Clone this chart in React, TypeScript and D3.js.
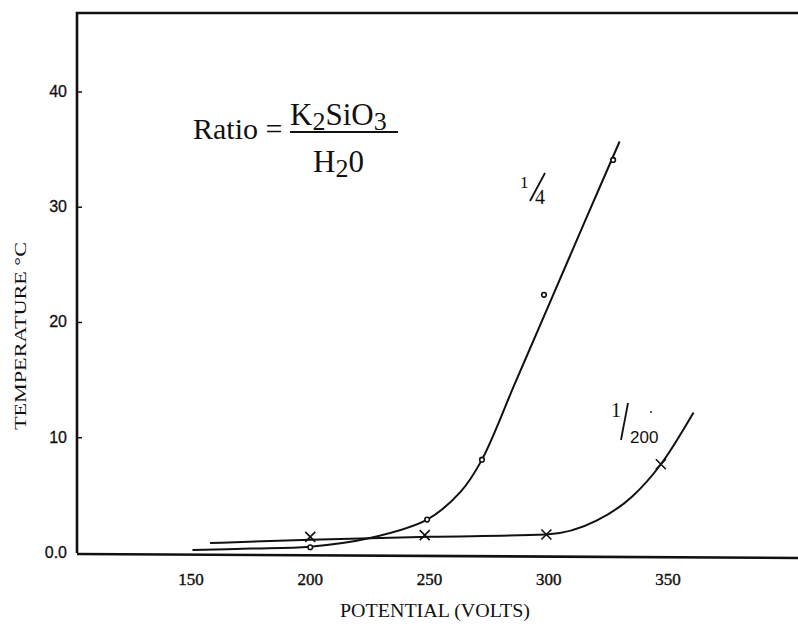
import { useEffect, useRef } from 'react'
import * as d3 from 'd3'

// axis ticks
const potentialTicks = [150, 200, 250, 300, 350]
const tempTicks = [0, 10, 20, 30, 40]
const tempTickLabels = ['0.0', '10', '20', '30', '40']

// ratio 1/4 (dots): measured points and the hand-drawn fit
const quarterVolts = [200, 249, 272, 298, 327]
const quarterTemps = [0.5, 2.9, 8.1, 22.4, 34.1]
const quarterFitVolts = [150.6, 175, 200, 225, 249, 263, 272, 286, 300, 315, 329.7]
const quarterFitTemps = [0.26, 0.38, 0.55, 1.3, 2.9, 5.3, 8.1, 14.8, 21.5, 28.7, 35.7]

// ratio 1/200 (crosses)
const twoHundVolts = [200, 248, 299, 347]
const twoHundTemps = [1.4, 1.55, 1.6, 7.7]
const twoHundFitVolts = [158, 200, 250, 299, 320, 335, 347, 360.7]
const twoHundFitTemps = [0.86, 1.15, 1.4, 1.6, 2.8, 4.9, 7.7, 12.2]

const W = 798
const H = 626
const SERIF = '"Liberation Serif", "DejaVu Serif", serif'
const SANS = '"Liberation Sans", Arial, sans-serif'

function App() {
  const ref = useRef<SVGSVGElement | null>(null)

  useEffect(() => {
    const svg = d3.select(ref.current)
    svg.selectAll('*').remove()

    const x = d3.scaleLinear().domain([102.2, 404.5]).range([77, 798])
    const y = d3.scaleLinear().domain([0, 46.85]).range([553, 13])

    const ink = '#111'

    // frame: left axis, top border, bottom axis
    svg
      .append('path')
      .attr('d', `M${x(102.2)},${y(0)} L${x(102.2)},${y(46.85)} L${W},${y(46.85)}`)
      .attr('fill', 'none')
      .attr('stroke', ink)
      .attr('stroke-width', 2.6)
    svg
      .append('line')
      .attr('x1', x(102.2))
      .attr('x2', W)
      .attr('y1', y(0) + 1)
      .attr('y2', y(0) + 5)
      .attr('stroke', ink)
      .attr('stroke-width', 2.6)

    // y ticks (inward) and labels
    const yt = svg.append('g')
    tempTicks.forEach((t, i) => {
      if (t > 0) {
        yt.append('line')
          .attr('x1', x(102.2))
          .attr('x2', x(102.2) + 5)
          .attr('y1', y(t))
          .attr('y2', y(t))
          .attr('stroke', ink)
          .attr('stroke-width', 1.5)
      }
      yt.append('text')
        .attr('x', 67)
        .attr('y', y(t) + 5)
        .attr('text-anchor', 'end')
        .attr('font-family', SANS)
        .attr('font-size', 16)
        .attr('fill', ink)
        .attr('stroke', ink)
        .attr('stroke-width', 0.3)
        .text(tempTickLabels[i])
    })

    // x tick labels
    svg
      .append('g')
      .selectAll('text')
      .data(potentialTicks)
      .join('text')
      .attr('x', (d) => x(d))
      .attr('y', 585)
      .attr('text-anchor', 'middle')
      .attr('font-family', SERIF)
      .attr('font-size', 17)
      .attr('fill', ink)
      .attr('stroke', ink)
      .attr('stroke-width', 0.4)
      .text((d) => d)

    // axis titles
    svg
      .append('text')
      .attr('x', 435)
      .attr('y', 617)
      .attr('text-anchor', 'middle')
      .attr('font-family', SERIF)
      .attr('font-size', 18)
      .attr('textLength', 190)
      .attr('lengthAdjust', 'spacingAndGlyphs')
      .attr('fill', ink)
      .text('POTENTIAL  (VOLTS)')
    svg
      .append('text')
      .attr('transform', 'translate(26,430) rotate(-90)')
      .attr('x', 0)
      .attr('y', 0)
      .attr('font-family', SERIF)
      .attr('font-size', 17)
      .attr('textLength', 188)
      .attr('lengthAdjust', 'spacingAndGlyphs')
      .attr('fill', ink)
      .text('TEMPERATURE   °C')

    // fitted curves
    const quarterLine = d3
      .line<number>()
      .x((d) => x(d))
      .y((_, i) => y(quarterFitTemps[i]))
      .curve(d3.curveCatmullRom.alpha(0.5))(quarterFitVolts)
    svg.append('path').attr('d', quarterLine).attr('fill', 'none').attr('stroke', ink).attr('stroke-width', 2)

    const twoHundLine = d3
      .line<number>()
      .x((d) => x(d))
      .y((_, i) => y(twoHundFitTemps[i]))
      .curve(d3.curveMonotoneX)(twoHundFitVolts)
    svg.append('path').attr('d', twoHundLine).attr('fill', 'none').attr('stroke', ink).attr('stroke-width', 2)

    // markers
    svg
      .append('g')
      .selectAll('circle')
      .data(quarterVolts)
      .join('circle')
      .attr('cx', (d) => x(d))
      .attr('cy', (_, i) => y(quarterTemps[i]))
      .attr('r', 2.3)
      .attr('fill', '#fff')
      .attr('stroke', ink)
      .attr('stroke-width', 1.6)

    const cross = svg.append('g')
    twoHundVolts.forEach((v, i) => {
      const cx = x(v)
      const cy = y(twoHundTemps[i])
      const s = 5
      cross
        .append('path')
        .attr('d', `M${cx - s},${cy - s} L${cx + s},${cy + s} M${cx + s},${cy - s} L${cx - s},${cy + s}`)
        .attr('stroke', ink)
        .attr('stroke-width', 1.6)
    })

    // ratio formula
    const f = svg.append('g').attr('font-family', SERIF).attr('fill', ink)
    f.append('text').attr('x', 193).attr('y', 139).attr('font-size', 30).text('Ratio =')
    const num = f.append('text').attr('x', 290).attr('y', 125).attr('font-size', 31)
    num.append('tspan').text('K')
    num.append('tspan').attr('font-size', 26).attr('dy', 5).text('2')
    num.append('tspan').attr('dy', -5).text('SiO')
    num.append('tspan').attr('font-size', 26).attr('dy', 5).text('3')
    f.append('line')
      .attr('x1', 290)
      .attr('x2', 398)
      .attr('y1', 132)
      .attr('y2', 132)
      .attr('stroke', ink)
      .attr('stroke-width', 2)
    const den = f.append('text').attr('x', 313).attr('y', 172).attr('font-size', 31)
    den.append('tspan').text('H')
    den.append('tspan').attr('font-size', 26).attr('dy', 5).text('2')
    den.append('tspan').attr('dy', -5).text('0')

    // series labels
    const lab = svg.append('g').attr('font-family', SERIF).attr('fill', ink)
    lab.append('text').attr('x', 520).attr('y', 188).attr('font-size', 17).text('1')
    lab.append('line')
      .attr('x1', 530).attr('y1', 201).attr('x2', 545).attr('y2', 173)
      .attr('stroke', ink).attr('stroke-width', 1.8)
    lab.append('text').attr('x', 535).attr('y', 204).attr('font-size', 20).text('4')

    lab.append('text').attr('x', 611).attr('y', 417).attr('font-size', 20).text('1')
    lab.append('line')
      .attr('x1', 621).attr('y1', 440).attr('x2', 628).attr('y2', 403)
      .attr('stroke', ink).attr('stroke-width', 1.8)
    lab.append('text')
      .attr('x', 630).attr('y', 443).attr('font-size', 17)
      .attr('font-family', SANS).text('200')
    lab.append('circle').attr('cx', 651).attr('cy', 412).attr('r', 0.9).attr('fill', ink)
  }, [])

  return (
    <svg
      ref={ref}
      width={W}
      height={H}
      viewBox={`0 0 ${W} ${H}`}
      style={{ position: 'absolute', left: 0, top: 0, background: '#fff' }}
    />
  )
}

export default App
